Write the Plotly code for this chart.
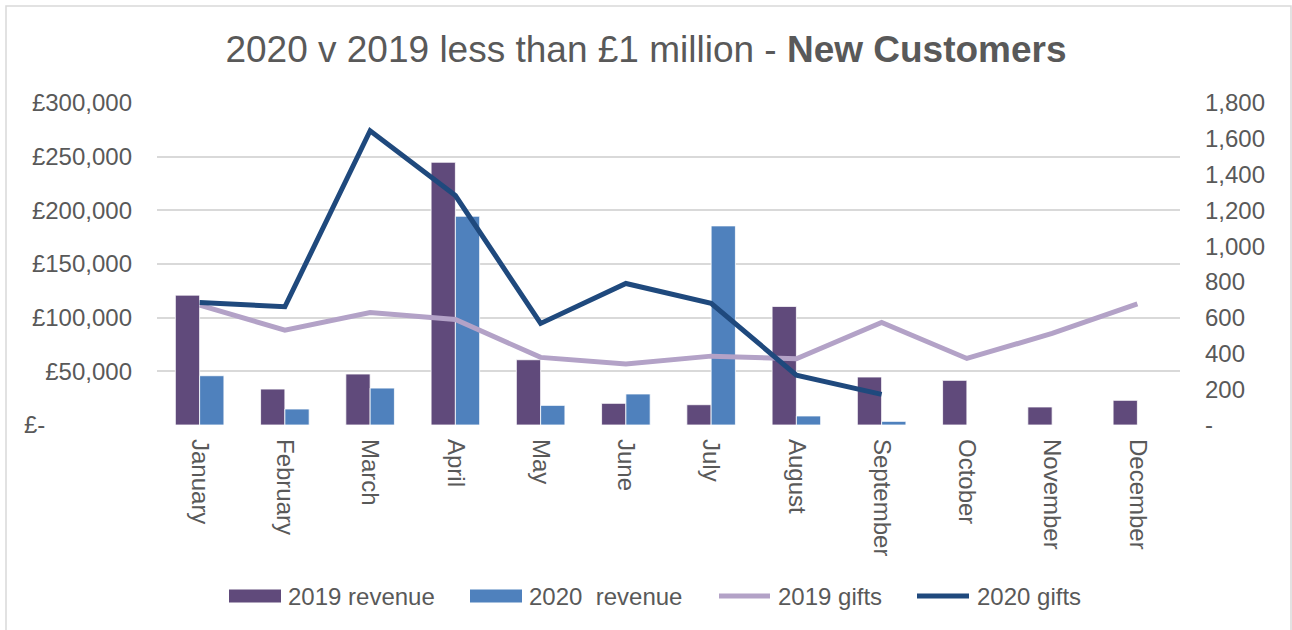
import plotly.graph_objects as go

# Monthly figures for new customers under £1 million
months = ["January", "February", "March", "April", "May", "June", "July",
          "August", "September", "October", "November", "December"]
revenue_2019 = [121000, 33500, 47500, 244800, 60800, 20200, 18900,
                110500, 44700, 41600, 16800, 23000]
revenue_2020 = [45900, 14900, 34400, 194500, 18300, 28900, 185500,
                8400, 3400, None, None, None]
gifts_2019 = [670, 530, 629, 590, 378, 341, 385, 370, 573, 372, 512, 677]
gifts_2020 = [685, 661, 1645, 1283, 568, 791, 680, 279, 171, None, None, None]

rev_ticks = [0, 50000, 100000, 150000, 200000, 250000, 300000]
rev_labels = ["£-" + "\u00a0" * 13, "£50,000", "£100,000", "£150,000",
              "£200,000", "£250,000", "£300,000"]
gift_ticks = [0, 200, 400, 600, 800, 1000, 1200, 1400, 1600, 1800]
gift_labels = ["-", "200", "400", "600", "800", "1,000", "1,200", "1,400",
               "1,600", "1,800"]

C_REV19 = "#604A7B"
C_REV20 = "#4F81BD"
C_GIFT19 = "#B3A2C7"
C_GIFT20 = "#1F497D"
TEXT = "#595959"
GRID = "#D9D9D9"
FONT = "Liberation Sans, Arial, sans-serif"

W, H = 1292, 630
ML, MR, MT, MB = 157, 112, 103, 205
PW, PH = W - ML - MR, H - MT - MB


def px_x(x):
    return (x - ML) / PW


def px_y(y):
    return (H - MB - y) / PH


fig = go.Figure()
fig.add_trace(go.Bar(x=months, y=revenue_2019, name="2019 revenue",
                     marker=dict(color=C_REV19, line=dict(color="white", width=0.8)),
                     showlegend=False))
fig.add_trace(go.Bar(x=months, y=revenue_2020, name="2020  revenue",
                     marker=dict(color=C_REV20, line=dict(color="white", width=0.8)),
                     showlegend=False))
fig.add_trace(go.Scatter(x=months, y=gifts_2019, name="2019 gifts", yaxis="y2",
                         mode="lines", line=dict(color=C_GIFT19, width=5),
                         showlegend=False))
fig.add_trace(go.Scatter(x=months, y=gifts_2020, name="2020 gifts", yaxis="y2",
                         mode="lines", line=dict(color=C_GIFT20, width=5),
                         showlegend=False))

# Legend drawn along the bottom: swatch + label per series
legend_items = [
    ("bar", C_REV19, 229, 281, 286, "2019 revenue"),
    ("bar", C_REV20, 470, 522, 527, "2020  revenue"),
    ("line", C_GIFT19, 717, 772, 776, "2019 gifts"),
    ("line", C_GIFT20, 915, 971, 975, "2020 gifts"),
]
shapes = []
annotations = []
LEG_Y = 596
for kind, color, x0, x1, tx, label in legend_items:
    if kind == "bar":
        shapes.append(dict(type="rect", xref="paper", yref="paper",
                           x0=px_x(x0), x1=px_x(x1), y0=px_y(LEG_Y - 6.5),
                           y1=px_y(LEG_Y + 6.5), fillcolor=color, line=dict(width=0)))
    else:
        shapes.append(dict(type="line", xref="paper", yref="paper",
                           x0=px_x(x0 + 2), x1=px_x(x1 - 2), y0=px_y(LEG_Y),
                           y1=px_y(LEG_Y), line=dict(color=color, width=5)))
    annotations.append(dict(text=label, xref="paper", yref="paper",
                            x=px_x(tx), y=px_y(LEG_Y), xanchor="left",
                            yanchor="middle", showarrow=False,
                            font=dict(family=FONT, size=24, color=TEXT)))

# Outer chart border
shapes.append(dict(type="rect", xref="paper", yref="paper",
                   x0=px_x(6), x1=px_x(1291), y0=px_y(645), y1=px_y(6),
                   line=dict(color=GRID, width=1.5), fillcolor="rgba(0,0,0,0)",
                   layer="below"))

fig.update_layout(
    width=W, height=H,
    margin=dict(l=ML, r=MR, t=MT, b=MB, pad=0),
    paper_bgcolor="white", plot_bgcolor="white",
    font=dict(family=FONT, size=24, color=TEXT),
    title=dict(text="2020 v 2019 less than £1 million - <b>New Customers</b>",
               x=0.5, xanchor="center", xref="container",
               y=1 - 49 / H, yanchor="middle", yref="container",
               font=dict(family=FONT, size=37, color=TEXT)),
    barmode="group", bargap=0.43, bargroupgap=0,
    showlegend=False,
    xaxis=dict(tickangle=90, showgrid=False, showline=False, ticks="",
               tickfont=dict(size=24, color=TEXT), ticklabelstandoff=13),
    yaxis=dict(range=[0, 300000], tickvals=rev_ticks, ticktext=rev_labels,
               showgrid=True, gridcolor=GRID, gridwidth=1.5, zeroline=False,
               ticks="", tickfont=dict(size=24, color=TEXT),
               ticklabelstandoff=24, fixedrange=True),
    yaxis2=dict(range=[0, 1800], tickvals=gift_ticks, ticktext=gift_labels,
                overlaying="y", side="right", showgrid=False, zeroline=False,
                ticks="", tickfont=dict(size=24, color=TEXT),
                ticklabelstandoff=24, fixedrange=True),
    shapes=shapes,
    annotations=annotations,
)

fig.write_html("out.html")
